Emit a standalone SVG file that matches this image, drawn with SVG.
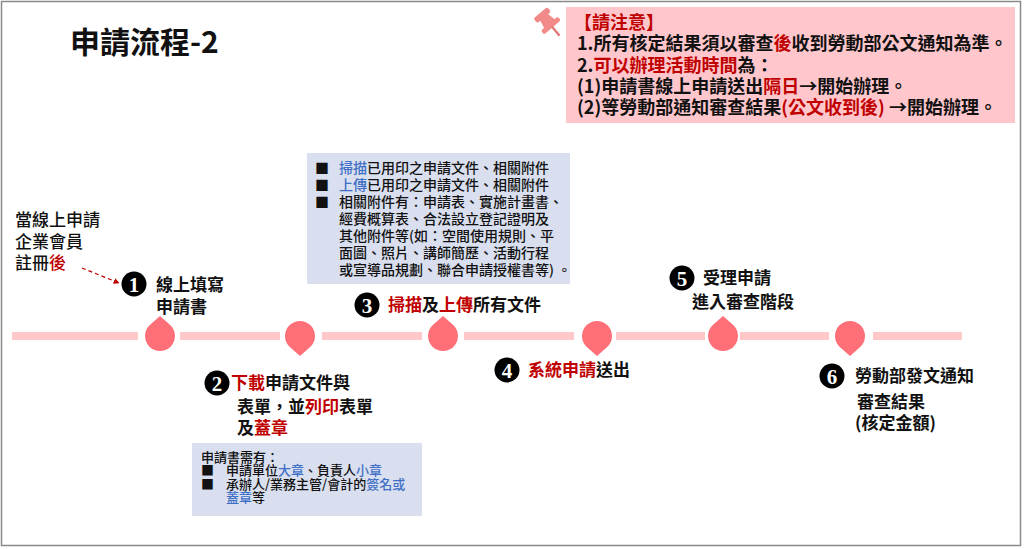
<svg xmlns="http://www.w3.org/2000/svg" width="1024" height="549" viewBox="0 0 1024 549">
<style>
text{font-family:"Noto Sans CJK TC","Noto Sans CJK SC",sans-serif;fill:#111}
.r{fill:#C00000}
.b{fill:#3F6FC6}
.lbl{font-size:17px;font-weight:bold}
.note{font-size:18px;font-weight:bold}
.box{font-size:14px;font-weight:500}
.box2{font-size:13px;font-weight:500}
.num{font-family:"Liberation Serif",serif;font-size:21px;font-weight:bold;fill:#fff;text-anchor:middle}
.bar{fill:#FFC9C9}
.drop{fill:#FF6F78}
.infobox{fill:#D9DFEE}
</style>
<defs>
<marker id="ah" viewBox="0 0 10 10" refX="9" refY="5" markerWidth="6" markerHeight="6" orient="auto" markerUnits="userSpaceOnUse">
<path d="M0,0 L10,5 L0,10 Z" fill="#C00000"/>
</marker>
</defs>
<rect x="0" y="0" width="1024" height="549" fill="#fff"/>
<rect x="1.5" y="1.5" width="1019" height="544" fill="none" stroke="#8a8a8a" stroke-width="1.5"/>

<g id="title"><text x="70" y="53" style="font-size:30px;font-weight:bold">申請流程-2</text></g>

<g id="note">
<rect x="566" y="7" width="449" height="116" fill="#FFC7CC"/>
<g transform="translate(548,22) rotate(-40)" fill="#F28A8A">
<rect x="-9" y="-12" width="18" height="6" rx="2"/>
<path d="M-5,-7 L5,-7 L7,3 L-7,3 Z"/>
<rect x="-11" y="2" width="22" height="5" rx="2"/>
<rect x="-1.2" y="6" width="2.4" height="12" fill="#E07878"/>
</g>
<text class="note" x="574" y="29"><tspan class="r">【請注意】</tspan></text>
<text class="note" x="577" y="50">1.所有核定結果須以審查<tspan class="r">後</tspan>收到勞動部公文通知為準。</text>
<text class="note" x="577" y="72">2.<tspan class="r">可以辦理活動時間</tspan>為：</text>
<text class="note" x="577" y="93">(1)申請書線上申請送出<tspan class="r">隔日</tspan>→開始辦理。</text>
<text class="note" x="577" y="114">(2)等勞動部通知審查結果<tspan class="r">(公文收到後)</tspan> →開始辦理。</text>
</g>

<g id="timeline">
<rect class="bar" x="12" y="332" width="126" height="8"/>
<rect class="bar" x="180" y="332" width="100" height="8"/>
<rect class="bar" x="322" y="332" width="100" height="8"/>
<rect class="bar" x="464" y="332" width="110" height="8"/>
<rect class="bar" x="616" y="332" width="89" height="8"/>
<rect class="bar" x="740" y="332" width="89" height="8"/>
<rect class="bar" x="873" y="332" width="89" height="8"/>
</g>

<g id="connectors">
<line x1="82" y1="268" x2="119" y2="283" stroke="#C00000" stroke-width="1.3" stroke-dasharray="4,3" marker-end="url(#ah)"/>
</g>

<g id="start">
<text class="lbl" x="15" y="226" style="font-weight:500">當線上申請</text>
<text class="lbl" x="15" y="248" style="font-weight:500">企業會員</text>
<text class="lbl" x="15" y="269" style="font-weight:500">註冊<tspan class="r">後</tspan></text>
</g>

<g id="step1">
<path class="drop" d="M160,316 L169.92,324.75 A15,15 0 1 1 150.08,324.75 Z"/>
<circle cx="134" cy="284" r="12.5" fill="#000"/>
<text class="num" x="134" y="291.5">1</text>
<text class="lbl" x="156" y="291">線上填寫</text>
<text class="lbl" x="156" y="313">申請書</text>
</g>

<g id="step2">
<path class="drop" d="M300,356 L290.08,347.25 A15,15 0 1 1 309.92,347.25 Z"/>
<circle cx="217" cy="383" r="12.5" fill="#000"/>
<text class="num" x="217" y="390.5">2</text>
<text class="lbl" x="231" y="389"><tspan class="r">下載</tspan>申請文件與</text>
<text class="lbl" x="237" y="413">表單，並<tspan class="r">列印</tspan>表單</text>
<text class="lbl" x="237" y="434">及<tspan class="r">蓋章</tspan></text>
<rect class="infobox" x="192" y="443" width="230" height="73"/>
<text class="box2" x="201" y="462">申請書需有：</text>
<text class="box2" x="201" y="475">■</text>
<text class="box2" x="226" y="475">申請單位<tspan class="b">大章</tspan>、負責人<tspan class="b">小章</tspan></text>
<text class="box2" x="201" y="489">■</text>
<text class="box2" x="226" y="489">承辦人/業務主管/會計的<tspan class="b">簽名或</tspan></text>
<text class="box2" x="226" y="502"><tspan class="b">蓋章</tspan>等</text>
</g>

<g id="step3">
<rect class="infobox" x="307" y="153" width="263" height="131"/>
<text class="box" x="315" y="173">■</text>
<text class="box" x="339" y="173"><tspan class="b">掃描</tspan>已用印之申請文件、相關附件</text>
<text class="box" x="315" y="190">■</text>
<text class="box" x="339" y="190"><tspan class="b">上傳</tspan>已用印之申請文件、相關附件</text>
<text class="box" x="315" y="207">■</text>
<text class="box" x="339" y="207">相關附件有：申請表、實施計畫書、</text>
<text class="box" x="339" y="224">經費概算表、合法設立登記證明及</text>
<text class="box" x="339" y="241">其他附件等(如：空間使用規則、平</text>
<text class="box" x="339" y="258">面圖、照片、講師簡歷、活動行程</text>
<text class="box" x="339" y="275">或宣導品規劃、聯合申請授權書等) 。</text>
<path class="drop" d="M443,316 L452.92,324.75 A15,15 0 1 1 433.08,324.75 Z"/>
<circle cx="367" cy="305" r="12.5" fill="#000"/>
<text class="num" x="367" y="312.5">3</text>
<text class="lbl" x="388" y="311"><tspan class="r">掃描</tspan>及<tspan class="r">上傳</tspan>所有文件</text>
</g>

<g id="step4">
<path class="drop" d="M597,356 L587.08,347.25 A15,15 0 1 1 606.92,347.25 Z"/>
<circle cx="507" cy="370" r="12.5" fill="#000"/>
<text class="num" x="507" y="377.5">4</text>
<text class="lbl" x="528" y="376"><tspan class="r">系統申請</tspan>送出</text>
</g>

<g id="step5">
<path class="drop" d="M723,316 L732.92,324.75 A15,15 0 1 1 713.08,324.75 Z"/>
<circle cx="682" cy="278" r="12.5" fill="#000"/>
<text class="num" x="682" y="285.5">5</text>
<text class="lbl" x="703" y="284">受理申請</text>
<text class="lbl" x="692" y="308">進入審查階段</text>
</g>

<g id="step6">
<path class="drop" d="M850,356 L840.08,347.25 A15,15 0 1 1 859.92,347.25 Z"/>
<circle cx="832" cy="376" r="12.5" fill="#000"/>
<text class="num" x="832" y="383.5">6</text>
<text class="lbl" x="855" y="382">勞動部發文通知</text>
<text class="lbl" x="857" y="408">審查結果</text>
<text class="lbl" x="855" y="429">(核定金額)</text>
</g>
</svg>
